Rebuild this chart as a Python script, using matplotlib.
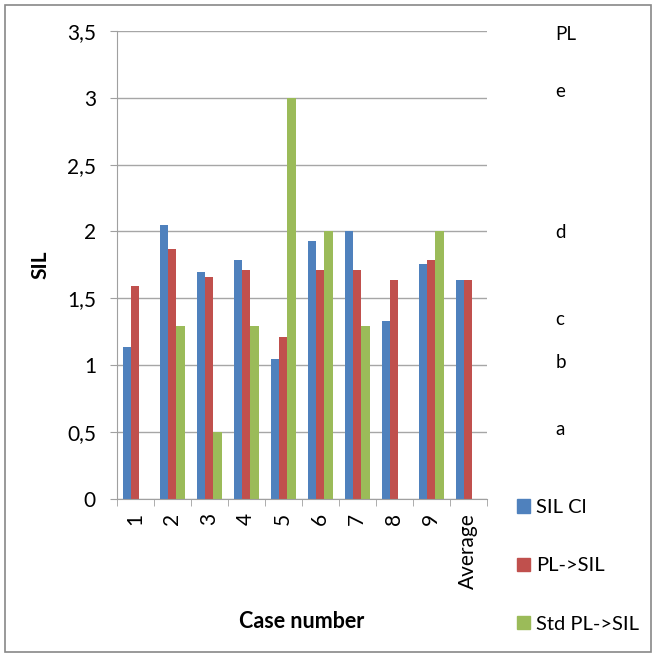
"""Grouped SIL bars per case, Excel-style layout."""

import matplotlib

matplotlib.use("Agg")
import matplotlib.pyplot as plt
import numpy as np
from matplotlib.patches import Patch, Rectangle

cases = ["1", "2", "3", "4", "5", "6", "7", "8", "9", "Average"]
sil_cl = [1.14, 2.05, 1.70, 1.79, 1.05, 1.93, 2.00, 1.33, 1.76, 1.64]
pl_to_sil = [1.59, 1.87, 1.66, 1.71, 1.21, 1.71, 1.71, 1.64, 1.79, 1.64]
std_pl_to_sil = [np.nan, 1.29, 0.50, 1.29, 3.00, 2.00, 1.29, np.nan, 2.00, np.nan]

series = [
    ("SIL Cl", sil_cl, "#4F81BD"),
    ("PL->SIL", pl_to_sil, "#C0504D"),
    ("Std PL->SIL", std_pl_to_sil, "#9BBB59"),
]

pl_labels = ["PL", "e", "d", "c", "b", "a"]
pl_label_y = [3.47, 3.05, 1.99, 1.34, 1.02, 0.52]

plt.rcParams.update({"font.family": ["Lato", "DejaVu Sans"], "font.size": 15})

fig = plt.figure(figsize=(6.56, 6.57), dpi=100)
ax = fig.add_axes([0.178, 0.2405, 0.564, 0.7125])

x = np.arange(len(cases))
width = 0.225
for i, (label, values, color) in enumerate(series):
    ax.bar(x + (i - 1) * width, values, width, color=color, label=label, zorder=2)

ax.set_xlim(-0.5, len(cases) - 0.5)
ax.set_ylim(0, 3.5)
ax.set_yticks(np.arange(0, 3.51, 0.5))
ax.set_yticklabels([f"{v:g}".replace(".", ",") for v in np.arange(0, 3.51, 0.5)])
ax.set_xticks(x)
ax.set_xticklabels(cases, rotation=90)
ax.set_xticks(np.arange(-0.5, len(cases)), minor=True)
ax.tick_params(axis="x", which="major", length=0, pad=10)
ax.tick_params(axis="x", which="minor", length=5, color="#A0A0A0")
ax.tick_params(axis="y", length=5, color="#A0A0A0", pad=10)
ax.grid(axis="y", color="#A6A6A6", linewidth=1, zorder=0)
for side in ("top", "right"):
    ax.spines[side].set_visible(False)
for side in ("left", "bottom"):
    ax.spines[side].set_color("#A0A0A0")

ax.set_ylabel("SIL", fontweight="bold", fontsize=15, labelpad=12)
ax.set_xlabel("Case number", fontweight="bold", fontsize=15.5, labelpad=16)

for text, yv in zip(pl_labels, pl_label_y):
    ax.text(1.185, yv, text, transform=ax.get_yaxis_transform(), va="center",
            ha="left", fontsize=13.5)

handles = [Patch(color=c) for _, _, c in series]
fig.legend(handles, [s[0] for s in series], loc="upper left",
           bbox_to_anchor=(0.76, 0.268), frameon=False, handlelength=0.65,
           handleheight=0.65, handletextpad=0.3, labelspacing=2.05, fontsize=14.5)

fig.patches.append(Rectangle((5 / 656, 5 / 657), 646 / 656, 647 / 657,
                             transform=fig.transFigure, fill=False,
                             edgecolor="#888888", linewidth=1.2))

fig.savefig("out.png", dpi=100)
